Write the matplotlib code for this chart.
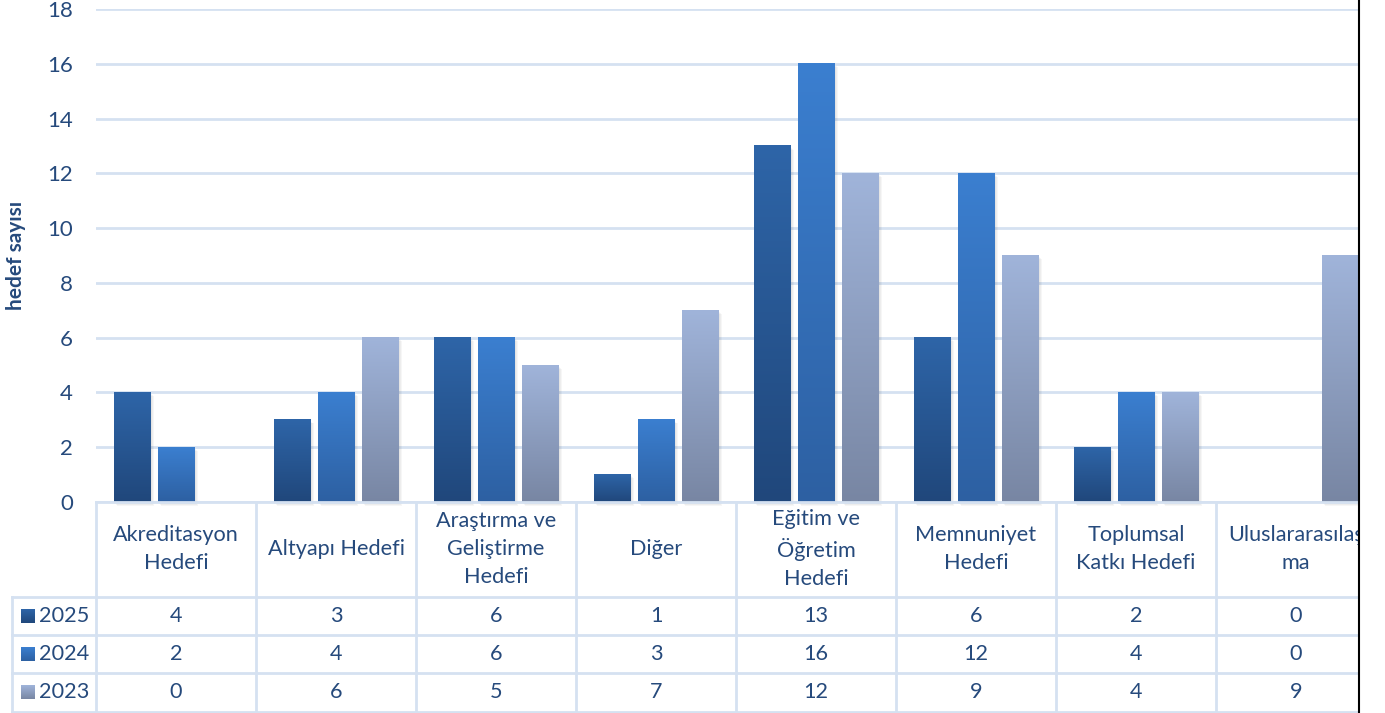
import matplotlib
matplotlib.use('Agg')
import matplotlib.pyplot as plt
import numpy as np
from matplotlib.colors import LinearSegmentedColormap
from matplotlib.patches import Rectangle
from matplotlib.lines import Line2D
import matplotlib.transforms as mtransforms

categories = ["Akreditasyon\nHedefi", "Altyapı Hedefi", "Araştırma ve\nGeliştirme\nHedefi",
              "Diğer", "Eğitim ve\nÖğretim\nHedefi", "Memnuniyet\nHedefi",
              "Toplumsal\nKatkı Hedefi", "Uluslararasılaş\nma"]
years = ["2025", "2024", "2023"]
v2025 = [4, 3, 6, 1, 13, 6, 2, 0]
v2024 = [2, 4, 6, 3, 16, 12, 4, 0]
v2023 = [0, 6, 5, 7, 12, 9, 4, 9]
y_ticks = [0, 2, 4, 6, 8, 10, 12, 14, 16, 18]
y_label = "hedef sayısı"

series = [v2025, v2024, v2023]
grad_colors = [("#20477B", "#2E65A8"), ("#2D60A2", "#3B7FD0"), ("#7886A3", "#A0B4DA")]

plt.rcParams['font.family'] = ['Lato', 'DejaVu Sans']
TXT = "#264A7C"
GRID = "#D5E1F1"
FS = 15.6

W, H = 1385, 713
fig = plt.figure(figsize=(W / 100, H / 100), dpi=100)
def fx(px): return px / W
def fy(py): return 1 - py / H

ax = fig.add_axes([fx(96), fy(502), fx(1376) - fx(96), fy(9) - fy(502)])
n = len(categories)
x = np.arange(n)
offsets = [-0.275, 0.0, 0.275]
bw = 0.23
grad = np.linspace(0, 1, 256).reshape(-1, 1)

for s, (vals, (c0, c1)) in enumerate(zip(series, grad_colors)):
    cmap = LinearSegmentedColormap.from_list("g%d" % s, [c0, c1])
    bars = ax.bar(x + offsets[s], vals, width=bw, color='none', zorder=3)
    for p in bars.patches:
        x0, w, h = p.get_x(), p.get_width(), p.get_height()
        if h <= 0:
            continue
        for k in range(1, 5):
            sh = Rectangle((x0, 0), w, h, facecolor='black', alpha=0.035, edgecolor='none',
                           transform=mtransforms.offset_copy(ax.transData, fig=fig, x=k * 0.9, y=-k * 0.9, units='dots'),
                           zorder=2, clip_on=False)
            ax.add_patch(sh)
        ax.imshow(grad, extent=[x0, x0 + w, 0, h], aspect='auto', cmap=cmap,
                  origin='lower', zorder=3, interpolation='bilinear')

ax.set_xlim(-0.5, n - 0.5)
ax.set_ylim(0, 18)
ax.set_yticks(y_ticks)
ax.set_xticks([])
ax.yaxis.grid(True, color=GRID, linewidth=2)
ax.set_axisbelow(True)
for sp in ax.spines.values():
    sp.set_visible(False)
ax.tick_params(axis='y', length=0, pad=16.5, labelsize=16, labelcolor=TXT)

fig.text(fx(16), fy(255), y_label, rotation=90, ha='center', va='center',
         fontsize=15, fontweight='bold', color=TXT)

# data table
tr = mtransforms.blended_transform_factory(ax.transData, fig.transFigure)
def hline(y, x0px):
    fig.add_artist(Line2D([fx(x0px), fx(1385)], [fy(y), fy(y)], color=GRID, lw=2, zorder=1))
hline(502, 96)
for yy in [597, 635, 673, 712]:
    hline(yy, 12)
fig.add_artist(Line2D([fx(12), fx(12)], [fy(597), fy(712)], color=GRID, lw=2, zorder=1))
fig.add_artist(Line2D([fx(96), fx(96)], [fy(502), fy(712)], color=GRID, lw=2, zorder=1))
for i in range(n):
    ax.add_line(Line2D([i + 0.5, i + 0.5], [fy(502), fy(712)], color=GRID, lw=2,
                       transform=tr, clip_on=False, zorder=1))

for i, cat in enumerate(categories):
    ax.text(i, fy(549), cat, transform=tr, ha='center', va='center', fontsize=FS,
            color=TXT, linespacing=1.5, clip_on=False)

row_y = [616, 654, 692]
for r, (yr, vals, (c0, c1)) in enumerate(zip(years, series, grad_colors)):
    cmap = LinearSegmentedColormap.from_list("k%d" % r, [c0, c1])
    kax = fig.add_axes([fx(21), fy(row_y[r] + 7), fx(14), 14 / H])
    kax.imshow(grad, aspect='auto', cmap=cmap, origin='lower')
    kax.axis('off')
    fig.text(fx(39), fy(row_y[r]), yr, ha='left', va='center', fontsize=FS, color=TXT)
    for i, v in enumerate(vals):
        ax.text(i, fy(row_y[r]), str(v), transform=tr, ha='center', va='center',
                fontsize=FS, color=TXT, clip_on=False)

# right-hand cut edge
fig.add_artist(Rectangle((fx(1359), 0), 1 - fx(1359), 1, transform=fig.transFigure,
                         facecolor='white', edgecolor='none', zorder=20))
fig.add_artist(Line2D([fx(1358.5), fx(1358.5)], [0, 1], color='black', lw=1.5, zorder=21))

fig.savefig("out.png", dpi=100, facecolor='white')
